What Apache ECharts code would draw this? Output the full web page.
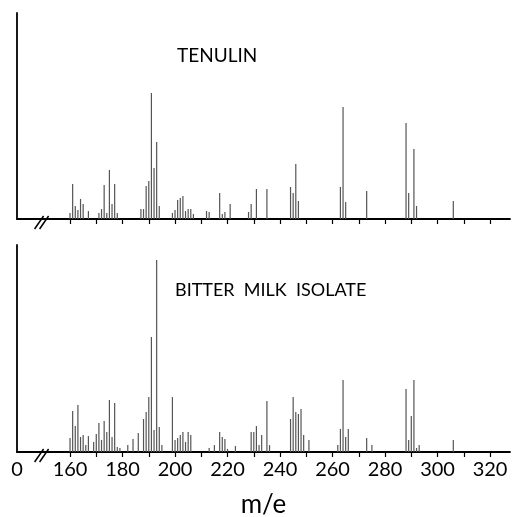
<!DOCTYPE html>
<html>
<head>
<meta charset="utf-8">
<script src="https://cdn.jsdelivr.net/npm/echarts@6/dist/echarts.min.js"></script>
<style>html,body{margin:0;padding:0;background:#fff}#c{width:514px;height:517px}</style>
</head>
<body>
<div id="c"></div>
<script>
// m/e values and relative intensities (% of base peak)
const tenulinMz  = [160,161,162,163,164,165,167,171,172,173,174,175,176,177,178,187,188,189,190,191,192,193,194,199,200,201,202,203,204,205,206,207,212,213,217,218,219,221,228,229,231,235,244,245,246,247,263,264,265,273,288,289,291,292,306];
const tenulinInt = [4.8,27.8,10.3,7.1,15.9,11.9,6.3,4.8,7.9,27,4.8,38.9,11.9,27.8,4.8,7.9,7.9,26.2,30.2,100,40.5,61.1,10.3,4.8,7.1,15.1,16.7,18.3,6.3,7.9,7.9,4,6.3,5.6,20.6,4,5.6,11.9,5.6,11.9,23.8,23.8,25.4,20.6,43.7,14.3,25.4,88.9,13.5,22.2,76.2,20.6,55.6,10.3,14.3];

const bitterMz  = [160,161,162,163,164,165,166,167,169,170,171,172,173,174,175,176,177,178,179,182,184,186,188,189,190,191,192,193,194,195,199,200,201,202,203,204,205,206,213,215,217,218,219,220,223,229,230,231,232,233,235,236,244,245,246,247,248,249,251,262,263,264,265,266,273,275,288,289,290,291,292,293,306];
const bitterInt = [7.3,21.4,13.5,24.5,7.8,8.9,3.6,8.3,5.2,9.4,15.1,6.3,16.1,10.4,27.1,7.8,25.5,2.6,2.1,3.6,6.8,9.9,17.2,20.8,28.6,59.9,11.5,100,13,3.6,28.6,6.3,7.3,8.9,10.4,5.2,10.4,8.9,2.1,3.6,10.4,7.8,6.8,1.6,3.1,10.4,10.4,13.5,3.6,8.9,26.6,3.6,17.2,28.6,20.8,19.8,22.4,8.9,6.3,3.6,12,37.5,7.8,12,7.3,3.6,32.8,6.3,18.8,37.5,2.1,3.6,6.3];

const tickValues  = [160,170,180,190,200,210,220,230,240,250,260,270,280,290,300,310,320];
const labelValues = [139.8,160,180,200,220,240,260,280,300,320];
const labelTexts  = ['0','160','180','200','220','240','260','280','300','320'];
const panelTitles = ['TENULIN', 'BITTER  MILK  ISOLATE'];

const X_MIN = 139.8, X_MAX = 327.6;
const FONT = 'Lato, "Liberation Sans", sans-serif';

const chart = echarts.init(document.getElementById('c'));

function xAxisCfg(gridIndex, showLabels) {
  return {
    type: 'value', gridIndex, min: X_MIN, max: X_MAX,
    axisLine: { show: true, lineStyle: { color: '#000', width: 1.8 } },
    axisTick: { show: true, customValues: tickValues, length: 5, lineStyle: { color: '#000', width: 1.2 } },
    axisLabel: {
      show: showLabels, customValues: labelValues, margin: 8,
      color: '#000', fontFamily: FONT, fontSize: 20,
      formatter: v => labelTexts[labelValues.findIndex(t => Math.abs(t - v) < 0.01)] ?? String(v)
    },
    splitLine: { show: false },
    name: showLabels ? 'm/e' : '',
    nameLocation: 'middle', nameGap: 40,
    nameTextStyle: { color: '#000', fontFamily: FONT, fontSize: 26 }
  };
}
function yAxisCfg(gridIndex, max) {
  return {
    type: 'value', gridIndex, min: 0, max,
    axisLine: { show: true, lineStyle: { color: '#000', width: 1.8 } },
    axisTick: { show: false }, axisLabel: { show: false }, splitLine: { show: false }
  };
}

const pairs = (mz, it) => mz.map((m, i) => [m, it[i]]);

chart.setOption({
  animation: false,
  backgroundColor: '#fff',
  grid: [
    { left: 17, right: 4, top: 13, bottom: 298, outerBoundsMode: 'none', containLabel: false },
    { left: 17, right: 4, top: 245, bottom: 65, outerBoundsMode: 'none', containLabel: false }
  ],
  xAxis: [xAxisCfg(0, false), xAxisCfg(1, true)],
  yAxis: [yAxisCfg(0, 163.5), yAxisCfg(1, 107.8)],
  series: [
    { type: 'bar', xAxisIndex: 0, yAxisIndex: 0, barWidth: 1.2, itemStyle: { color: '#555' }, data: pairs(tenulinMz, tenulinInt) },
    { type: 'bar', xAxisIndex: 1, yAxisIndex: 1, barWidth: 1.2, itemStyle: { color: '#555' }, data: pairs(bitterMz, bitterInt) }
  ]
});

// axis-break marks and panel titles
const graphics = [];
[0, 1].forEach(g => {
  const x0 = chart.convertToPixel({ xAxisIndex: g }, 146.5);
  const y0 = chart.convertToPixel({ yAxisIndex: g }, 0);
  [0, 5].forEach(dx => {
    graphics.push({ type: 'line', shape: { x1: x0 + dx, y1: y0 + 10, x2: x0 + dx + 9, y2: y0 - 3 },
      style: { stroke: '#000', lineWidth: 1.5 } });
  });
});
graphics.push({ type: 'text', x: 177, y: 56, style: { text: panelTitles[0], font: '19px ' + FONT, fill: '#000', verticalAlign: 'middle' } });
graphics.push({ type: 'text', x: 175, y: 290, style: { text: panelTitles[1], font: '18px ' + FONT, fill: '#000', verticalAlign: 'middle' } });
chart.setOption({ graphic: graphics });
</script>
</body>
</html>
